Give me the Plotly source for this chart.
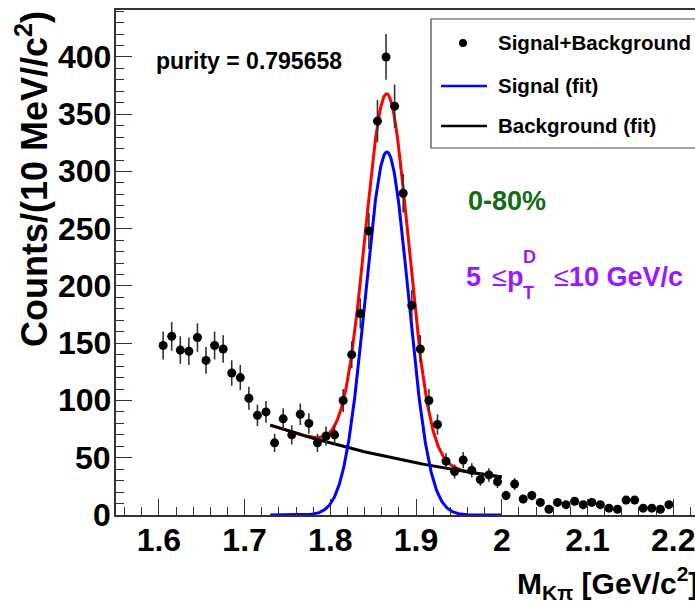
import numpy as np
import plotly.graph_objects as go

# ---- data: K-pi invariant mass histogram (10 MeV bins) ----
mass = [1.605, 1.615, 1.625, 1.635, 1.645, 1.655, 1.665, 1.675, 1.685, 1.695,
        1.705, 1.715, 1.725, 1.735, 1.745, 1.755, 1.765, 1.775, 1.785, 1.795,
        1.805, 1.815, 1.825, 1.835, 1.845, 1.855, 1.865, 1.875, 1.885, 1.895,
        1.905, 1.915, 1.925, 1.935, 1.945, 1.955, 1.965, 1.975, 1.985, 1.995,
        2.005, 2.015, 2.025, 2.035, 2.045, 2.055, 2.065, 2.075, 2.085, 2.095,
        2.105, 2.115, 2.125, 2.135, 2.145, 2.155, 2.165, 2.175, 2.185, 2.195]
counts = [148, 156, 144, 143, 155, 135, 148, 145, 124, 120,
          102, 87, 90, 63, 84, 70, 88, 80, 63, 69,
          70, 100, 140, 176, 248, 344, 400, 357, 281, 183,
          145, 100, 79, 47, 38, 48, 39, 31, 35, 29,
          17, 27, 14, 17, 11, 5, 11, 9, 12, 9,
          11, 9, 6, 5, 13, 13, 6, 6, 5, 9]

# fit results: gaussian signal + exponential background, fit range 1.73-2.00
fit_range = (1.73, 2.00)
sig_amp, sig_mean, sig_width = 317.0, 1.866, 0.025
bkg_ref_x, bkg_amp, bkg_slope = 1.8345, 56.2, -3.2
purity = 0.795658

x_ticks = [1.6, 1.7, 1.8, 1.9, 2.0, 2.1, 2.2]
x_tick_text = ["1.6", "1.7", "1.8", "1.9", "2", "2.1", "2.2"]
y_ticks = [0, 50, 100, 150, 200, 250, 300, 350, 400]

# ---- figure geometry ----
W, H = 695, 602
ML, MR, MT, MB = 116, 0, 10, 87
PW, PH = W - ML - MR, H - MT - MB
X_RANGE = [1.55, 2.2254]
Y_RANGE = [0, 441]

def px(xp):
    return (xp - ML) / PW

def py(yp):
    return (H - MB - yp) / PH

FONT = "Liberation Sans, Arial, Helvetica, sans-serif"
TICK_FONT = dict(family=FONT, size=32, color="black", weight="bold")

counts_arr = np.array(counts, dtype=float)
err = np.sqrt(counts_arr)

xf = np.linspace(fit_range[0], fit_range[1], 400)
signal = sig_amp * np.exp(-0.5 * ((xf - sig_mean) / sig_width) ** 2)
background = bkg_amp * np.exp(bkg_slope * (xf - bkg_ref_x))
total = signal + background

fig = go.Figure()
fig.add_trace(go.Scatter(x=xf, y=total, mode="lines",
                         line=dict(color="#ff0000", width=3), name="Total (fit)"))
fig.add_trace(go.Scatter(x=xf, y=background, mode="lines",
                         line=dict(color="#000000", width=3), name="Background (fit)"))
fig.add_trace(go.Scatter(x=xf, y=signal, mode="lines",
                         line=dict(color="#0000ff", width=3), name="Signal (fit)"))
fig.add_trace(go.Scatter(x=mass, y=counts, mode="markers",
                         marker=dict(color="black", size=9),
                         error_y=dict(type="data", array=err, visible=True,
                                      color="#333333", thickness=1.6, width=0),
                         name="Signal+Background"))

axis_common = dict(showgrid=False, zeroline=False, showline=True,
                   linecolor="#333333", linewidth=1.5,
                   ticks="inside", tickcolor="#333333", tickwidth=1.3, ticklen=16,
                   ticklabeloverflow="allow", tickfont=TICK_FONT)

fig.update_layout(
    width=W, height=H,
    margin=dict(l=ML, r=MR, t=MT, b=MB, pad=0),
    paper_bgcolor="white", plot_bgcolor="white",
    showlegend=False,
    xaxis=dict(range=X_RANGE, tickvals=x_ticks, ticktext=x_tick_text,
               mirror=True, ticklabelstandoff=-4,
               minor=dict(ticks="inside", ticklen=8, dtick=0.02, tick0=1.6,
                          tickcolor="#333333", tickwidth=1.3),
               **axis_common),
    yaxis=dict(range=Y_RANGE, tickvals=y_ticks, showticklabels=False,
               minor=dict(ticks="inside", ticklen=8, dtick=10, tick0=0,
                          tickcolor="#333333", tickwidth=1.3),
               **axis_common),
)

shapes = []
annotations = []

# y tick labels, right-aligned close to the axis line
for v in y_ticks:
    annotations.append(dict(
        xref="paper", yref="y", x=px(113), y=v, text=str(v),
        showarrow=False, xanchor="right", yanchor="middle", font=TICK_FONT))

# axis titles
annotations.append(dict(
    xref="paper", yref="paper", x=px(32), y=py(179), textangle=-90,
    text="Counts/(10 MeV//c<sup>2</sup>)", showarrow=False,
    xanchor="center", yanchor="middle",
    font=dict(family=FONT, size=36, color="black", weight="bold")))
annotations.append(dict(
    xref="paper", yref="paper", x=px(515), y=py(583),
    text="M<sub>K\u03c0</sub> [GeV/c<sup>2</sup>]", showarrow=False,
    xanchor="left", yanchor="middle",
    font=dict(family=FONT, size=30, color="black", weight="bold")))

# purity label
annotations.append(dict(
    xref="paper", yref="paper", x=px(154), y=py(61),
    text=f"purity = {purity:.6f}", showarrow=False,
    xanchor="left", yanchor="middle",
    font=dict(family=FONT, size=23, color="black", weight="bold")))

# centrality and pT labels
annotations.append(dict(
    xref="paper", yref="paper", x=px(466), y=py(201), text="0-80%",
    showarrow=False, xanchor="left", yanchor="middle",
    font=dict(family=FONT, size=27, color="#136b13", weight="bold")))
VIOLET = "#9a19ff"
pt_parts = [
    ("5", 464, 277, 27, "bold"),
    ("\u2264", 490, 277, 27, "normal"),
    ("p", 505, 277, 27, "bold"),
    ("D", 521, 257, 18, "bold"),
    ("T", 521, 293, 18, "bold"),
    ("\u2264", 552, 277, 27, "normal"),
    ("10 GeV/c", 567, 277, 27, "bold"),
]
for txt, xx, yy, sz, wt in pt_parts:
    annotations.append(dict(
        xref="paper", yref="paper", x=px(xx), y=py(yy), text=txt,
        showarrow=False, xanchor="left", yanchor="middle",
        font=dict(family=FONT, size=sz, color=VIOLET, weight=wt)))

# legend box
shapes.append(dict(type="rect", xref="paper", yref="paper",
                   x0=px(431), x1=px(720), y0=py(148), y1=py(19),
                   line=dict(color="#444444", width=1.2), fillcolor="white",
                   layer="above"))
shapes.append(dict(type="circle", xref="paper", yref="paper",
                   xsizemode="pixel", ysizemode="pixel",
                   xanchor=px(463), yanchor=py(43),
                   x0=-4, x1=4, y0=-4, y1=4,
                   fillcolor="black", line=dict(color="black", width=0),
                   layer="above"))
shapes.append(dict(type="line", xref="paper", yref="paper",
                   x0=px(441), x1=px(487), y0=py(86), y1=py(86),
                   line=dict(color="#0000ff", width=2.5), layer="above"))
shapes.append(dict(type="line", xref="paper", yref="paper",
                   x0=px(441), x1=px(487), y0=py(126), y1=py(126),
                   line=dict(color="#000000", width=2.5), layer="above"))
for label, yy in [("Signal+Background", 43), ("Signal (fit)", 85), ("Background (fit)", 126)]:
    annotations.append(dict(
        xref="paper", yref="paper", x=px(496), y=py(yy), text=label,
        showarrow=False, xanchor="left", yanchor="middle",
        font=dict(family=FONT, size=20.5, color="black", weight="bold")))

fig.update_layout(shapes=shapes, annotations=annotations)
fig.write_html("out.html")
